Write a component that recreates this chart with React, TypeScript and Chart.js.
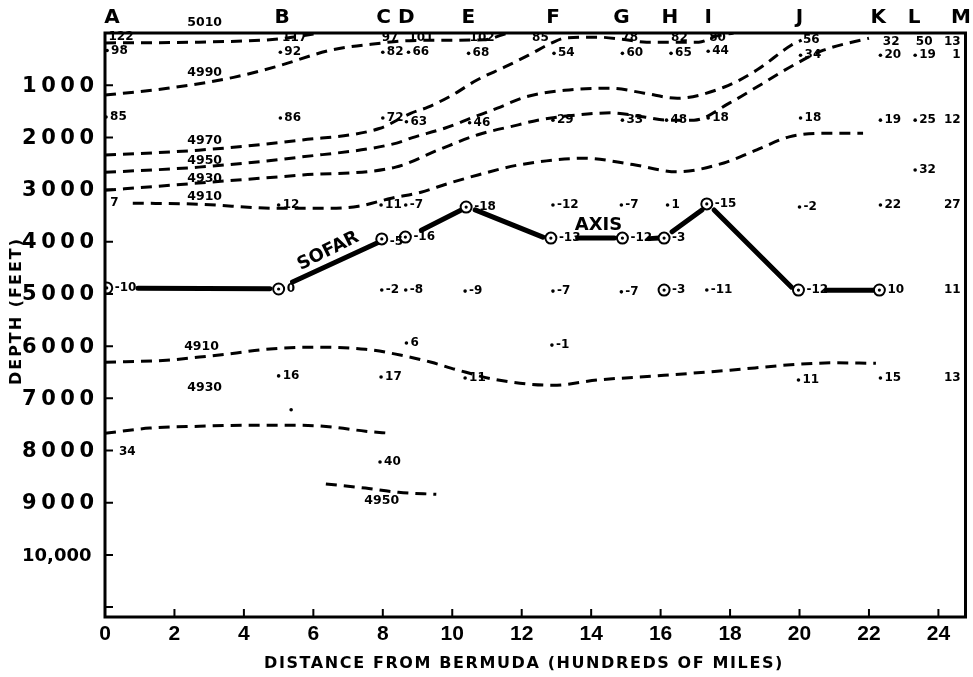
import React, { useEffect, useRef } from "react";
import { Chart, registerables } from "chart.js";
Chart.register(...registerables);

// ---------- axes ----------
const X_MAX = 24.78;
const DEPTH_MAX = 11190;
const xTicks = [0, 2, 4, 6, 8, 10, 12, 14, 16, 18, 20, 22, 24];
const xTickLabels = ["0", "2", "4", "6", "8", "10", "12", "14", "16", "18", "20", "22", "24"];
const depthTicks = [1000, 2000, 3000, 4000, 5000, 6000, 7000, 8000, 9000, 10000, 11000];
const depthTickLabels = ["1000", "2000", "3000", "4000", "5000", "6000", "7000", "8000", "9000", "10,000", ""];
const xTitle = "DISTANCE FROM BERMUDA (HUNDREDS OF MILES)";
const yTitle = "DEPTH (FEET)";

// ---------- stations ----------
const stationLetters = ["A", "B", "C", "D", "E", "F", "G", "H", "I", "J", "K", "L", "M"];
const stationLetterX = [0.2, 5.1, 8.02, 8.68, 10.46, 12.9, 14.87, 16.27, 17.37, 20.0, 22.27, 23.3, 24.65];

// ---------- sound velocity contours (x = hundreds of miles, depth in feet) ----------
const c5010 = [[0, 190], [2.7, 175], [4.9, 120], [5.6, 60], [6.2, 0]];
const c4990 = [[0, 1190], [1.8, 1060], [3.7, 850], [4.9, 650], [6.5, 330], [8.0, 190], [8.6, 150], [9.6, 140], [10.9, 130], [11.6, 0]];
const c4970 = [[0, 2340], [2.7, 2245], [5.6, 2055], [7.9, 1830], [8.8, 1540], [9.3, 1420], [10.0, 1190], [10.7, 905], [11.5, 655], [12.2, 425], [12.85, 195], [13.3, 90], [14.2, 80], [14.9, 120], [15.6, 175], [16.1, 175], [17.1, 175], [17.6, 60], [18.1, 0]];
const c4950 = [[0, 2670], [2.7, 2570], [5.6, 2380], [8.4, 2110], [8.83, 2010], [9.8, 1820], [10.54, 1630], [11.3, 1440], [12.09, 1230], [13.24, 1096], [14.56, 1058], [15.53, 1153], [16.48, 1250], [17.82, 1040], [18.77, 710], [19.77, 230], [20.06, 135]];
const c4930 = [[0, 3015], [2.7, 2875], [5.6, 2725], [8.37, 2570], [9.6, 2240], [10.74, 1950], [11.9, 1760], [12.46, 1670], [13.6, 1570], [14.56, 1530], [15.53, 1610], [16.19, 1670], [16.96, 1670], [17.99, 1340], [18.77, 1035], [19.83, 615], [20.69, 330], [22.0, 100]];
const c4910 = [[0.8, 3260], [2.7, 3280], [5.0, 3360], [6.5, 3360], [7.3, 3320], [8.25, 3165], [9.1, 3050], [9.9, 2880], [10.74, 2720], [11.9, 2530], [13.8, 2400], [15.2, 2520], [16.48, 2660], [17.82, 2490], [18.77, 2240], [19.7, 1990], [20.69, 1920], [21.83, 1920]];
const c4910deep = [[0, 6310], [1.77, 6270], [2.72, 6210], [3.67, 6140], [4.64, 6060], [6.07, 6020], [7.5, 6060], [8.65, 6190], [9.4, 6310], [10.17, 6460], [11.32, 6650], [12.9, 6750], [14.18, 6650], [16.1, 6560], [18.0, 6460], [19.9, 6350], [21.0, 6320], [22.2, 6330]];
const c4930deep = [[0, 7670], [1.29, 7570], [2.72, 7535], [4.15, 7515], [5.59, 7515], [6.53, 7550], [7.5, 7630], [8.22, 7670]];
const c4950deep = [[6.36, 8640], [7.5, 8720], [8.45, 8800], [9.54, 8840]];
const contours = [c5010, c4990, c4970, c4950, c4930, c4910, c4910deep, c4930deep, c4950deep];

const contourLabels = ["5010", "4990", "4970", "4950", "4930", "4910", "4910", "4930", "4950"];
const contourLabelX = [2.87, 2.87, 2.87, 2.87, 2.87, 2.87, 2.78, 2.87, 7.97];
const contourLabelDepth = [-190, 770, 2070, 2450, 2800, 3140, 6020, 6800, 8970];

// ---------- SOFAR axis (thick solid segments) ----------
const axisSegments = [
  [[0.95, 4890], [4.75, 4900]],
  [[5.4, 4770], [7.85, 4020]],
  [[9.11, 3780], [10.26, 3390]],
  [[10.66, 3390], [12.61, 3910]],
  [[13.61, 3930], [14.67, 3930]],
  [[15.67, 3940], [15.96, 3930]],
  [[16.33, 3810], [17.19, 3390]],
  [[17.54, 3390], [19.77, 4870]],
  [[20.77, 4930], [22.12, 4930]],
];
const axisWords = ["SOFAR", "AXIS"];
const axisWordX = [6.43, 14.21];
const axisWordDepth = [4180, 3680];
const axisWordAngle = [-26.6, 0];

// ---------- observations at stations ----------
// kind: p = plain text, d = dot + text, c = circled (axis) value, r = text ending at the point
const readX = [
  0.1, 5.1, 7.97, 8.74, 10.5, 12.3, 14.87, 16.3, 17.4, 20.1, 22.4, 23.35, 24.7,
  0.06, 5.05, 8.0, 8.74, 10.47, 12.93, 14.9, 16.3, 17.37, 20.03, 22.33, 23.33, 24.7,
  0.03, 5.05, 8.0, 8.68, 10.5, 12.9, 14.9, 16.17, 17.37, 20.03, 22.33, 23.33, 24.7, 23.33,
  0.15, 5.0, 7.95, 8.66, 12.9, 14.87, 16.2, 20.0, 22.33, 24.7,
  0.05, 5.0, 7.97, 8.65, 10.4, 12.84, 14.9, 16.1, 17.33, 19.97, 22.3, 16.1,
  7.97, 8.66, 10.37, 12.9, 14.87, 17.33, 24.7,
  8.68, 12.87,
  5.0, 7.95, 10.37, 19.97, 22.33, 24.7,
  5.36, 0.4, 7.92,
];
const readDepth = [
  80, 100, 100, 100, 100, 100, 100, 100, 100, 140, 175, 175, 175,
  335, 370, 370, 370, 390, 390, 390, 390, 350, 425, 425, 425, 425,
  1610, 1630, 1630, 1700, 1720, 1670, 1670, 1670, 1630, 1630, 1670, 1670, 1670, 2625,
  3255, 3295, 3295, 3295, 3295, 3295, 3295, 3335, 3295, 3295,
  4885, 4905, 3945, 3910, 3335, 3930, 3930, 3930, 3275, 4925, 4925, 4925,
  4925, 4925, 4945, 4945, 4960, 4925, 4925,
  5940, 5980,
  6570, 6590, 6610, 6650, 6610, 6610,
  7220, 8025, 8220,
];
const readText = [
  "122", "117", "97", "101", "102", "85", "78", "82", "80", "56", "32", "50", "13",
  "98", "92", "82", "66", "68", "54", "60", "65", "44", "34", "20", "19", "1",
  "85", "86", "72", "63", "46", "29", "33", "48", "18", "18", "19", "25", "12", "32",
  "7", "12", "11", "-7", "-12", "-7", "1", "-2", "22", "27",
  "-10", "0", "-5", "-16", "-18", "-13", "-12", "-3", "-15", "-12", "10", "-3",
  "-2", "-8", "-9", "-7", "-7", "-11", "11",
  "6", "-1",
  "16", "17", "11", "11", "15", "13",
  "", "34", "40",
];
const readKind = [
  "p", "p", "p", "p", "p", "p", "p", "p", "p", "p", "p", "p", "r",
  "d", "d", "d", "d", "d", "d", "d", "d", "d", "d", "d", "d", "r",
  "d", "d", "d", "d", "d", "d", "d", "d", "d", "d", "d", "d", "r", "d",
  "p", "d", "d", "d", "d", "d", "d", "d", "d", "r",
  "c", "c", "c", "c", "c", "c", "c", "c", "c", "c", "c", "c",
  "d", "d", "d", "d", "d", "d", "r",
  "d", "d",
  "d", "d", "d", "d", "d", "r",
  "d", "p", "d",
];

const FONT = "'DejaVu Sans', 'Liberation Sans', sans-serif";
const NARROW = "'Liberation Sans Narrow', 'Liberation Sans', sans-serif";

function drawText(ctx: any, s: string, x: number, y: number, font: string, align = "left", spacing = 0, angleDeg = 0) {
  ctx.save();
  ctx.font = font;
  ctx.letterSpacing = spacing + "px";
  ctx.textAlign = align;
  ctx.textBaseline = "middle";
  ctx.fillStyle = "#000";
  ctx.translate(x, y);
  if (angleDeg) ctx.rotate((angleDeg * Math.PI) / 180);
  ctx.fillText(s, 0, 0);
  ctx.restore();
}

const overlay = {
  id: "overlay",
  afterDraw(chart: any) {
    const { ctx, chartArea: a, scales } = chart;
    const xs = scales.x;
    const ys = scales.y;
    ctx.save();
    // frame
    ctx.strokeStyle = "#000";
    ctx.lineWidth = 3;
    ctx.strokeRect(a.left, a.top, a.right - a.left, a.bottom - a.top);
    // inward tick marks
    ctx.lineWidth = 2;
    ctx.beginPath();
    depthTicks.forEach((v) => {
      const py = ys.getPixelForValue(v);
      ctx.moveTo(a.left, py);
      ctx.lineTo(a.left + 8, py);
    });
    xTicks.forEach((v) => {
      if (v === 0) return;
      const px = xs.getPixelForValue(v);
      ctx.moveTo(px, a.bottom);
      ctx.lineTo(px, a.bottom - 8);
    });
    ctx.stroke();
    ctx.restore();

    // y tick labels (spread to a common width like the original lettering)
    depthTicks.forEach((v, i) => {
      const s = depthTickLabels[i];
      if (!s) return;
      const py = ys.getPixelForValue(v);
      let size = 21;
      ctx.save();
      ctx.font = "bold " + size + "px " + FONT;
      ctx.letterSpacing = "0px";
      const w = ctx.measureText(s).width;
      ctx.restore();
      let sp = (72 - w) / (s.length - 1);
      if (w > 73) {
        size = Math.floor((21 * 73) / w);
        sp = 0;
      }
      drawText(ctx, s, 22, py + 1, "bold " + size + "px " + FONT, "left", sp);
    });
    // x tick labels
    xTicks.forEach((v, i) => {
      drawText(ctx, xTickLabels[i], xs.getPixelForValue(v), a.bottom + 17, "bold 21px " + NARROW, "center");
    });
    // axis titles
    drawText(ctx, xTitle, 524, a.bottom + 47, "bold 16px " + FONT, "center", 1.6);
    drawText(ctx, yTitle, 17, 311, "bold 16px " + FONT, "center", 2, -90);

    // station letters
    stationLetters.forEach((s, i) => {
      drawText(ctx, s, xs.getPixelForValue(stationLetterX[i]), a.top - 15, "bold 20px " + FONT, "center");
    });

    // contour labels
    contourLabels.forEach((s, i) => {
      drawText(ctx, s, xs.getPixelForValue(contourLabelX[i]), ys.getPixelForValue(contourLabelDepth[i]), "bold 12.5px " + FONT, "center");
    });

    // SOFAR AXIS words
    axisWords.forEach((s, i) => {
      drawText(ctx, s, xs.getPixelForValue(axisWordX[i]), ys.getPixelForValue(axisWordDepth[i]), "bold 18px " + FONT, "center", 0, axisWordAngle[i]);
    });

    // observation values
    readText.forEach((s, i) => {
      if (!s) return;
      const px = xs.getPixelForValue(readX[i]);
      const py = ys.getPixelForValue(readDepth[i]);
      const k = readKind[i];
      const f = "bold 12px " + FONT;
      if (k === "p") drawText(ctx, s, px, py, f, "left");
      else if (k === "d") drawText(ctx, s, px + 4, py, f, "left");
      else if (k === "c") drawText(ctx, s, px + 8, py + (s === "-5" ? 3 : 0), f, "left");
      else drawText(ctx, s, px - 2, py, f, "right");
    });
  },
};

function pts(arr: number[][]) {
  return arr.map((p) => ({ x: p[0], y: p[1] }));
}

export default function App() {
  const ref = useRef<HTMLCanvasElement>(null);
  useEffect(() => {
    const dotIdx = readKind.map((k, i) => (k === "d" ? i : -1)).filter((i) => i >= 0);
    const circIdx = readKind.map((k, i) => (k === "c" ? i : -1)).filter((i) => i >= 0);
    const datasets: any[] = [];
    contours.forEach((c) => {
      datasets.push({
        data: pts(c),
        showLine: true,
        borderColor: "#000",
        borderWidth: 3,
        borderDash: [11, 7],
        pointRadius: 0,
        cubicInterpolationMode: "monotone",
        order: 3,
      });
    });
    axisSegments.forEach((seg) => {
      datasets.push({
        data: pts(seg),
        showLine: true,
        borderColor: "#000",
        borderWidth: 5,
        borderCapStyle: "round",
        pointRadius: 0,
        order: 2,
      });
    });
    datasets.push({
      data: dotIdx.map((i) => ({ x: readX[i], y: readDepth[i] })),
      pointRadius: 1.8,
      backgroundColor: "#000",
      borderWidth: 0,
      order: 1,
    });
    datasets.push({
      data: circIdx.map((i) => ({ x: readX[i], y: readDepth[i] })),
      pointRadius: 1.6,
      backgroundColor: "#000",
      borderWidth: 0,
      order: 0,
    });
    datasets.push({
      data: circIdx.map((i) => ({ x: readX[i], y: readDepth[i] })),
      pointRadius: 5.5,
      backgroundColor: "#fff",
      borderColor: "#000",
      borderWidth: 2,
      order: 1,
    });
    const chart = new Chart(ref.current as HTMLCanvasElement, {
      type: "scatter",
      data: { datasets },
      options: {
        animation: false,
        responsive: false,
        events: [],
        layout: { padding: { left: 105, right: 5, top: 33, bottom: 60 } },
        plugins: { legend: { display: false }, tooltip: { enabled: false } },
        scales: {
          x: { type: "linear", min: 0, max: X_MAX, display: false },
          y: { type: "linear", min: 0, max: DEPTH_MAX, reverse: true, display: false },
        },
      },
      plugins: [overlay],
    } as any);
    return () => chart.destroy();
  }, []);
  return (
    <div style={{ position: "fixed", left: 0, top: 0, width: 973, height: 677, background: "#fff" }}>
      <canvas ref={ref} width={973} height={677} style={{ display: "block" }} />
    </div>
  );
}
